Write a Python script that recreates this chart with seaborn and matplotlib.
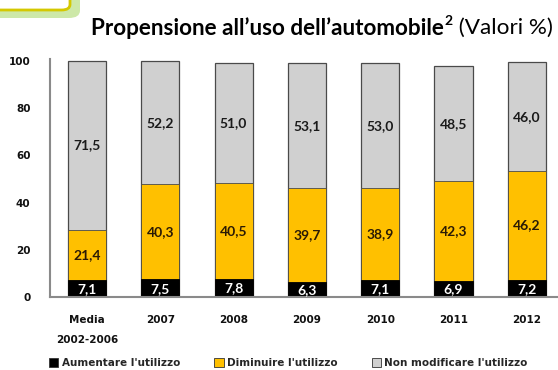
import matplotlib
matplotlib.use("Agg")
import matplotlib.pyplot as plt
import seaborn as sns
import pandas as pd
import numpy as np
from matplotlib.patches import FancyBboxPatch, Patch

categories = ["Media\n2002-2006", "2007", "2008", "2009", "2010", "2011", "2012"]
aumentare = [7.1, 7.5, 7.8, 6.3, 7.1, 6.9, 7.2]
diminuire = [21.4, 40.3, 40.5, 39.7, 38.9, 42.3, 46.2]
non_modificare = [71.5, 52.2, 51.0, 53.1, 53.0, 48.5, 46.0]
series_names = ["Aumentare l'utilizzo", "Diminuire l'utilizzo", "Non modificare l'utilizzo"]
yticks = [0, 20, 40, 60, 80, 100]

sns.set_theme(style="white")
plt.rcParams['font.family'] = ['Lato', 'DejaVu Sans']

df = pd.DataFrame({
    "cat": categories,
    "a": aumentare,
    "d": diminuire,
    "n": non_modificare,
})
df["cum_a"] = df["a"]
df["cum_d"] = df["a"] + df["d"]
df["cum_n"] = df["a"] + df["d"] + df["n"]

W, H = 558, 370
fig = plt.figure(figsize=(W / 100, H / 100), dpi=100)

unit_px = 73.3
x0_px, x_right_px = 50, 558
y0_px = 297
px_per_val = 2.36
ymax = 101
left = x0_px / W
width = (x_right_px - x0_px) / W
bottom = (H - y0_px) / H
height = ymax * px_per_val / H
ax = fig.add_axes([left, bottom, width, height])

col_black = "#000000"
col_yellow = "#FFC000"
col_gray = "#D0D0D0"
bw = 0.52

sns.barplot(data=df, x="cat", y="cum_n", color=col_gray, width=bw, ax=ax,
            edgecolor="#4a4a4a", linewidth=0.9, saturation=1)
sns.barplot(data=df, x="cat", y="cum_d", color=col_yellow, width=bw, ax=ax,
            edgecolor="#4a4a4a", linewidth=0.6, saturation=1)
sns.barplot(data=df, x="cat", y="cum_a", color=col_black, width=bw, ax=ax,
            edgecolor="#000000", linewidth=0.6, saturation=1)

xmin = -(87 - x0_px) / unit_px
xmax = xmin + (x_right_px - x0_px) / unit_px
ax.set_xlim(xmin, xmax)
ax.set_ylim(0, ymax)

def fmt(v):
    return f"{v:.1f}".replace(".", ",")

for i in range(len(categories)):
    a, d, n = aumentare[i], diminuire[i], non_modificare[i]
    ax.text(i, a / 2 - 0.3, fmt(a), ha="center", va="center", color="white",
            fontsize=10, fontweight="bold")
    ax.text(i, a + d / 2, fmt(d), ha="center", va="center", color="#2a1a05",
            fontsize=10, fontweight="bold")
    ax.text(i, a + d + n / 2, fmt(n), ha="center", va="center", color="#1a1a1a",
            fontsize=10, fontweight="bold")

tick_family = ["DejaVu Sans"]
ax.set_yticks(yticks)
ax.set_yticklabels([str(t) for t in yticks], fontsize=7.5, fontweight="bold",
                   color="#111111", family=tick_family)
ax.set_xticklabels(categories, fontsize=7.5, fontweight="bold", color="#111111",
                   linespacing=2.25, family=tick_family)
ax.tick_params(axis="both", length=0)
ax.tick_params(axis="y", pad=14)
ax.tick_params(axis="x", pad=13)
ax.set_xlabel("")
ax.set_ylabel("")
for s in ["top", "right"]:
    ax.spines[s].set_visible(False)
for s in ["left", "bottom"]:
    ax.spines[s].set_color("#8a8a8a")
    ax.spines[s].set_linewidth(1.5)

# title in three pieces
renderer = fig.canvas.get_renderer()
ty = 1 - 28 / H
t1 = fig.text(91 / W, ty, "Propensione all\u2019uso dell\u2019automobile",
              ha="left", va="center", fontsize=16.2, fontweight="bold", color="black")
bb = t1.get_window_extent(renderer)
t2 = fig.text(bb.x1 / W + 1 / W, ty + 7 / H, "2", ha="left", va="center",
              fontsize=10, fontweight="bold", color="black")
bb2 = t2.get_window_extent(renderer)
t3 = fig.text(bb2.x1 / W, ty, " (Valori %)", ha="left", va="center",
              fontsize=16.2, fontweight="normal", color="black")

# legend
handles = [Patch(facecolor=c, edgecolor="#333333", linewidth=0.6)
           for c in [col_black, col_yellow, col_gray]]
fig.legend(handles, series_names, loc="center left", bbox_to_anchor=(49 / W, 1 - 363 / H),
           ncol=3, frameon=False, prop={"weight": "bold", "size": 7.5, "family": "DejaVu Sans"},
           handlelength=0.9, handleheight=0.9, handletextpad=0.3, columnspacing=3.3,
           borderaxespad=0, borderpad=0)

# top-left decoration
shadow = FancyBboxPatch((-20 / W, 1 - 18 / H), 100 / W, 40 / H,
                        boxstyle="round,pad=0,rounding_size=0.02",
                        transform=fig.transFigure, facecolor="#cde8a8",
                        edgecolor="none", zorder=0)
box = FancyBboxPatch((-20 / W, 1 - 10 / H), 90 / W, 30 / H,
                     boxstyle="round,pad=0,rounding_size=0.015",
                     transform=fig.transFigure, facecolor="white",
                     edgecolor="#d4c800", linewidth=2, zorder=1)
fig.patches.extend([shadow, box])

fig.savefig("out.png", dpi=100)
